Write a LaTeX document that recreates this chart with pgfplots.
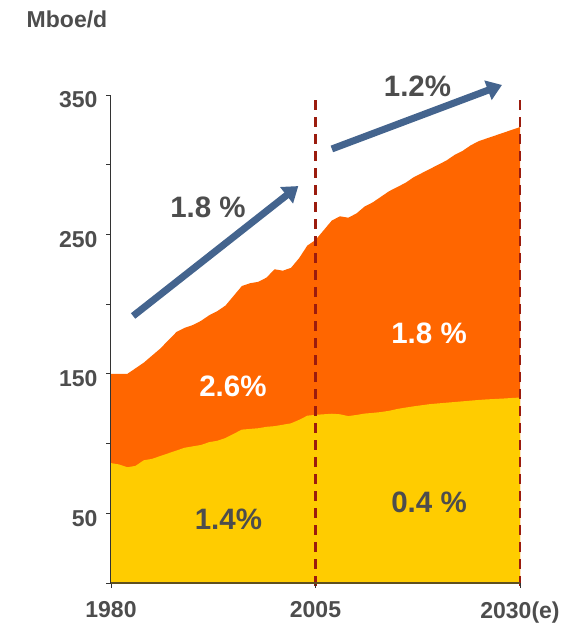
\documentclass[border=0pt]{standalone}
\usepackage{fontspec}
\setmainfont{Liberation Sans}
\usepackage{pgfplots}
\pgfplotsset{compat=1.18}
\usetikzlibrary{arrows.meta}
\definecolor{cOrange}{RGB}{255,102,0}
\definecolor{cYellow}{RGB}{255,204,0}
\definecolor{cGray}{RGB}{77,77,77}
\definecolor{cBlue}{RGB}{68,100,142}
\definecolor{cRed}{RGB}{155,28,14}
\definecolor{cOlive}{RGB}{95,80,30}
\begin{document}
\begin{tikzpicture}
\begin{axis}[
  width=409pt, height=488pt, scale only axis,
  xmin=1980, xmax=2030, ymin=0, ymax=350,
  axis x line*=bottom, axis y line*=left,
  axis line style={draw=black!80, line width=1pt},
  x axis line style={draw=cOlive, line width=1.5pt},
  xtick={1980,2005,2030}, xticklabels={1980,2005,2030(e)},
  ytick={0,50,...,350}, yticklabels={,50,,150,,250,,350},
  tick align=outside, major tick length=5pt,
  tick style={black!80, line width=0.8pt},
  ticklabel style={font=\fontsize{23}{26}\selectfont\bfseries, text=cGray},
  /pgf/number format/assume math mode=true,
  xticklabel style={yshift=-10pt},
  yticklabel style={yshift=-5pt, xshift=-5pt},
  clip=false,
  axis on top,
]
% total (orange top)
\addplot[fill=cOrange, draw=none] coordinates {
(1980,150) (1981,150) (1982,150) (1983,154) (1984,158) (1985,163) (1986,168)
(1987,174) (1988,180) (1989,183) (1990,185) (1991,188) (1992,192) (1993,195)
(1994,199) (1995,206) (1996,213) (1997,215) (1998,216) (1999,219) (2000,225)
(2001,224) (2002,226) (2003,233) (2004,242) (2005,246) (2006,253) (2007,260)
(2008,263) (2009,262) (2010,265) (2011,270) (2012,273) (2013,277) (2014,281)
(2015,284) (2016,287) (2017,291) (2018,294) (2019,297) (2020,300) (2021,303)
(2022,307) (2023,310) (2024,314) (2025,317) (2026,319) (2027,321) (2028,323)
(2029,325) (2030,327)
} \closedcycle;
% yellow
\addplot[fill=cYellow, draw=none] coordinates {
(1980,86) (1981,85) (1982,83) (1983,84) (1984,88) (1985,89) (1986,91)
(1987,93) (1988,95) (1989,97) (1990,98) (1991,99) (1992,101) (1993,102)
(1994,104) (1995,107) (1996,110) (1997,110.5) (1998,111) (1999,112) (2000,112.5)
(2001,113.5) (2002,114.5) (2003,117) (2004,120) (2005,120.6) (2006,121) (2007,121.4)
(2008,121) (2009,119.7) (2010,120.5) (2011,121.5) (2012,122) (2013,122.6) (2014,123.5)
(2015,124.8) (2016,125.8) (2017,126.7) (2018,127.5) (2019,128.3) (2020,128.8) (2021,129.3)
(2022,129.8) (2023,130.3) (2024,130.8) (2025,131.3) (2026,131.7) (2027,132) (2028,132.3)
(2029,132.7) (2030,133)
} \closedcycle;
\draw[cRed, line width=2.5pt, dash pattern=on 10pt off 7pt] (axis cs:2005,346.4) -- (axis cs:2005,-4);
\draw[cRed, line width=2.5pt, dash pattern=on 10pt off 7pt] (axis cs:2030,346.4) -- (axis cs:2030,-4);
\draw[cBlue, line width=7pt, -{Triangle[length=15pt,width=20pt]}] (axis cs:1982.7,191.5) -- (axis cs:2002.9,284.7);
\draw[cBlue, line width=7pt, -{Triangle[length=15pt,width=20pt]}] (axis cs:2007.0,311.3) -- (axis cs:2027.8,357.2);
\node[text=cGray, font=\fontsize{29.5}{32}\selectfont\bfseries] at (axis cs:1991.86,269.7) {1.8 \%};
\node[text=cGray, font=\fontsize{29.5}{32}\selectfont\bfseries] at (axis cs:2017.47,356.5) {1.2\%};
\node[text=white, font=\fontsize{29.5}{32}\selectfont\bfseries] at (axis cs:1994.91,141.3) {2.6\%};
\node[text=white, font=\fontsize{29.5}{32}\selectfont\bfseries] at (axis cs:2018.88,179.3) {1.8 \%};
\node[text=cGray, font=\fontsize{29.5}{32}\selectfont\bfseries] at (axis cs:1994.36,45.9) {1.4\%};
\node[text=cGray, font=\fontsize{29.5}{32}\selectfont\bfseries] at (axis cs:2018.88,58.1) {0.4 \%};
\node[text=cGray, font=\fontsize{23}{26}\selectfont\bfseries] at (axis cs:1974.62,404.5) {Mboe/d};
\end{axis}
\pgfresetboundingbox
\path (-111pt,-40pt) rectangle (466pt,583pt);
\end{tikzpicture}
\end{document}
